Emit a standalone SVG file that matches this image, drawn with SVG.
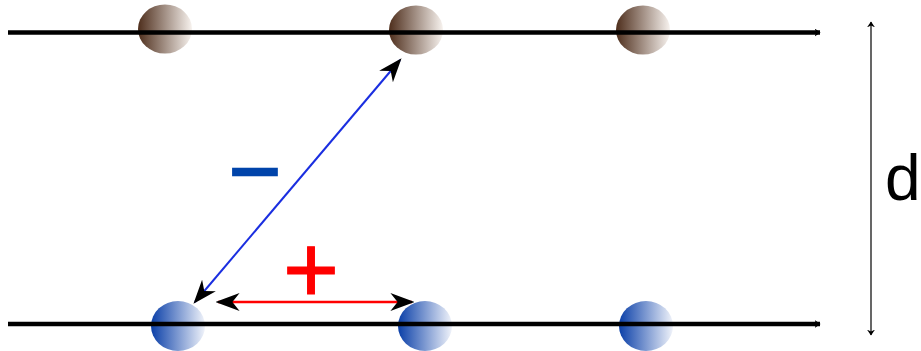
<svg xmlns="http://www.w3.org/2000/svg" width="921" height="351" viewBox="0 0 921 351">
<style>
.rail{stroke:#000;stroke-width:4.5;fill:none}
.ball{stroke:none}
.txt{font-family:"Liberation Sans",Arial,sans-serif}
</style>
<defs>
<linearGradient id="gb" x1="0" y1="0" x2="1" y2="0">
<stop offset="0" stop-color="#4e2e1c"/>
<stop offset="1" stop-color="#f7f2ee"/>
</linearGradient>
<linearGradient id="gu" x1="0" y1="0" x2="1" y2="0">
<stop offset="0" stop-color="#0a3fa8"/>
<stop offset="1" stop-color="#f0f3fa"/>
</linearGradient>
<marker id="ahb" viewBox="0 0 10 10" refX="9" refY="5" markerWidth="24" markerHeight="18" markerUnits="userSpaceOnUse" orient="auto-start-reverse" preserveAspectRatio="none">
<path d="M0,0 L10,5 L0,10 L3,5 Z" fill="#000"/>
</marker>
<marker id="ahs" viewBox="0 0 10 10" refX="9" refY="5" markerWidth="6" markerHeight="8" markerUnits="userSpaceOnUse" orient="auto-start-reverse" preserveAspectRatio="none">
<path d="M0,0 L10,5 L0,10 L3,5 Z" fill="#000"/>
</marker>
</defs>
<g id="top-ball-1"><ellipse class="ball" cx="165" cy="29" rx="27" ry="24.5" fill="url(#gb)"/></g>
<g id="top-ball-2"><ellipse class="ball" cx="416" cy="30" rx="27" ry="24.5" fill="url(#gb)"/></g>
<g id="top-ball-3"><ellipse class="ball" cx="643" cy="30" rx="27" ry="24.5" fill="url(#gb)"/></g>
<g id="bottom-ball-1"><ellipse class="ball" cx="178" cy="326" rx="27" ry="25" fill="url(#gu)"/></g>
<g id="bottom-ball-2"><ellipse class="ball" cx="425" cy="326" rx="27" ry="25" fill="url(#gu)"/></g>
<g id="bottom-ball-3"><ellipse class="ball" cx="646" cy="326" rx="27" ry="25" fill="url(#gu)"/></g>
<g id="rails">
<line class="rail" x1="8" y1="32.5" x2="820" y2="32.5" marker-end="url(#ahs)"/>
<line class="rail" x1="8" y1="324" x2="820" y2="324" marker-end="url(#ahs)"/>
</g>
<g id="connectors">
<line x1="195" y1="302" x2="400" y2="60" stroke="#1a2ee0" stroke-width="2" marker-start="url(#ahb)" marker-end="url(#ahb)"/>
<line x1="218" y1="302" x2="412" y2="302" stroke="#f00" stroke-width="2.5" marker-start="url(#ahb)" marker-end="url(#ahb)"/>
<line x1="871" y1="22" x2="871" y2="335" stroke="#000" stroke-width="1.2" marker-start="url(#ahs)" marker-end="url(#ahs)"/>
</g>
<g id="labels">
<text class="txt" x="255" y="202" font-size="90" fill="#0044aa" stroke="#0044aa" stroke-width="2" text-anchor="middle">−</text>
<text class="txt" x="311" y="303" font-size="96" fill="#f00" stroke="#f00" stroke-width="1" text-anchor="middle">+</text>
<text class="txt" x="885" y="200" font-size="64" fill="#000">d</text>
</g>
</svg>
